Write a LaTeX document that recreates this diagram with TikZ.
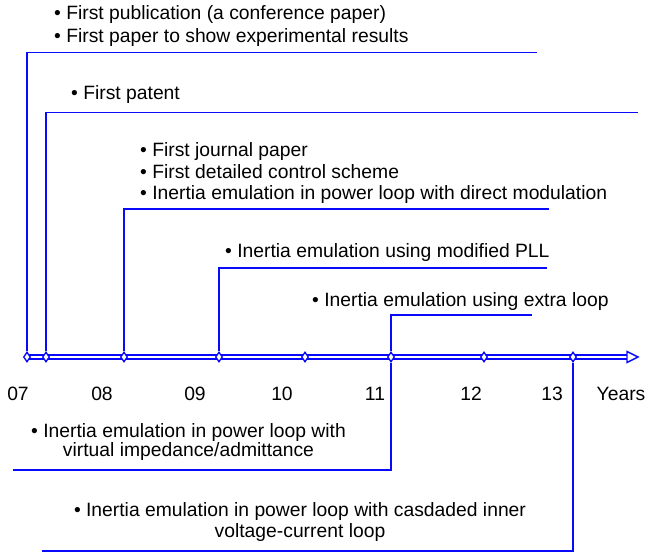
\documentclass[tikz,border=0pt]{standalone}
\usepackage{fontspec}
\setmainfont{Liberation Sans}
\usetikzlibrary{shapes.geometric}
\definecolor{tlblue}{RGB}{10,10,250}
\begin{document}
\begin{tikzpicture}[x=1pt,y=-1pt,
  lead/.style={draw=tlblue,line width=1.4pt},
  axisline/.style={draw=tlblue,line width=1.5pt,double=white,double distance=2.4pt},
  ydiam/.style={diamond,draw=tlblue,fill=white,line width=1.3pt,inner sep=0pt,minimum width=7pt,minimum height=10pt},
  lbl/.style={font=\fontsize{19.3}{23}\selectfont,inner sep=0pt,text=black},
]
\useasboundingbox (0,0) rectangle (646,553);

% axis
\coordinate (a0) at (27,357);
\coordinate (a1) at (627,357);
\draw[axisline] (a0) -- (a1);
\draw[lead,fill=white,line join=miter] (627,351.5) -- (638,357) -- (627,362.5) -- cycle;

% diamonds
\node[ydiam] (m1) at (27,357) {};
\node[ydiam] (m2) at (46,357) {};
\node[ydiam] (m3) at (124,357) {};
\node[ydiam] (m4) at (219,357) {};
\node[ydiam] (m5) at (305,357) {};
\node[ydiam] (m6) at (391,357) {};
\node[ydiam] (m7) at (484,357) {};
\node[ydiam] (m8) at (573,357) {};

% year labels
\node[lbl,anchor=base] (y07) at (18,401) {07};
\node[lbl,anchor=base] (y08) at (102,401) {08};
\node[lbl,anchor=base] (y09) at (195,401) {09};
\node[lbl,anchor=base] (y10) at (282,401) {10};
\node[lbl,anchor=base] (y11) at (375,401) {11};
\node[lbl,anchor=base] (y12) at (471,401) {12};
\node[lbl,anchor=base] (y13) at (552,401) {13};
\node[lbl,anchor=base] (yrs) at (621,401) {Years};

% leaders
\coordinate (e1) at (537,52.5);
\coordinate (e2) at (638,112.5);
\coordinate (e3) at (549,209);
\coordinate (e4) at (547,268);
\coordinate (e5) at (532,315);
\coordinate (e6) at (13,470);
\coordinate (e7) at (42,551);
\draw[lead] (m1.north) |- (e1);
\draw[lead] (m2.north) |- (e2);
\draw[lead] (m3.north) |- (e3);
\draw[lead] (m4.north) |- (e4);
\draw[lead] (m6.north) |- (e5);
\draw[lead] (m6.south) |- (e6);
\draw[lead] (m8.south) |- (e7);

% texts
\node[lbl,anchor=base west] (t1a) at (54,19.5) {• First publication (a conference paper)};
\node[lbl,anchor=base west] (t1b) at (54,42.5) {• First paper to show experimental results};
\node[lbl,anchor=base west] (t2) at (71,100) {• First patent};
\node[lbl,anchor=base west] (t3a) at (140,157) {• First journal paper};
\node[lbl,anchor=base west] (t3b) at (140,178.5) {• First detailed control scheme};
\node[lbl,anchor=base west] (t3c) at (140,200) {• Inertia emulation in power loop with direct modulation};
\node[lbl,anchor=base west] (t4) at (225,258) {• Inertia emulation using modified PLL};
\node[lbl,anchor=base west] (t5) at (312,307) {• Inertia emulation using extra loop};
\node[lbl,anchor=base] (t6a) at (188.5,438) {• Inertia emulation in power loop with};
\node[lbl,anchor=base] (t6b) at (188.5,457) {virtual impedance/admittance};
\node[lbl,anchor=base] (t7a) at (300,517) {• Inertia emulation in power loop with casdaded inner};
\node[lbl,anchor=base] (t7b) at (300,537) {voltage-current loop};
\end{tikzpicture}
\end{document}
